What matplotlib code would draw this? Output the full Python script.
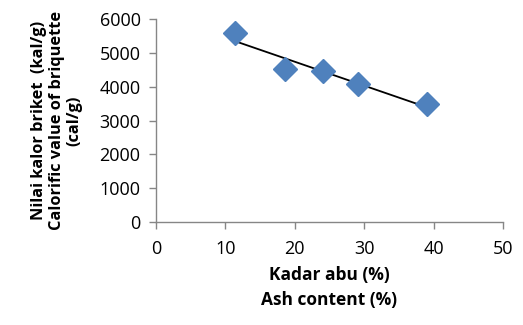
import matplotlib
matplotlib.use("Agg")
import matplotlib.pyplot as plt
import numpy as np

ash = [11.4, 18.6, 24.0, 29.1, 39.0]
calorific = [5580, 4540, 4460, 4070, 3490]
xticks = [0, 10, 20, 30, 40, 50]
yticks = [0, 1000, 2000, 3000, 4000, 5000, 6000]

plt.rcParams['font.family'] = ['Open Sans', 'DejaVu Sans']

fig = plt.figure(figsize=(5.23, 3.25), dpi=100)
ax = fig.add_axes([0.298, 0.317, 0.664, 0.624])

slope, inter = np.polyfit(ash, calorific, 1)
xl = np.array([min(ash), max(ash)])
ax.plot(xl, slope * xl + inter, color='black', lw=1.3, zorder=2)
ax.plot(ash, calorific, linestyle='none', marker='D', ms=12.5, color='#4F81BD', zorder=3)

ax.set_xlim(0, 50)
ax.set_ylim(0, 6000)
ax.set_xticks(xticks)
ax.set_yticks(yticks)
for s in ['top', 'right']:
    ax.spines[s].set_visible(False)
for s in ['left', 'bottom']:
    ax.spines[s].set_color('#868686')
    ax.spines[s].set_linewidth(1.0)
ax.tick_params(direction='out', color='#868686', length=5, width=1.0, labelsize=13, pad=6)
ax.tick_params(axis='x', pad=8)

ax.set_xlabel('Kadar abu (%)\nAsh content (%)', fontsize=12.5, fontweight='bold', linespacing=1.45, labelpad=6)
ax.set_ylabel('Nilai kalor briket  (kal/g)\nCalorific value of briquette\n(cal/g)', fontsize=11.8,
              fontweight='bold', linespacing=1.15, labelpad=12)

fig.savefig('out.png', dpi=100)
